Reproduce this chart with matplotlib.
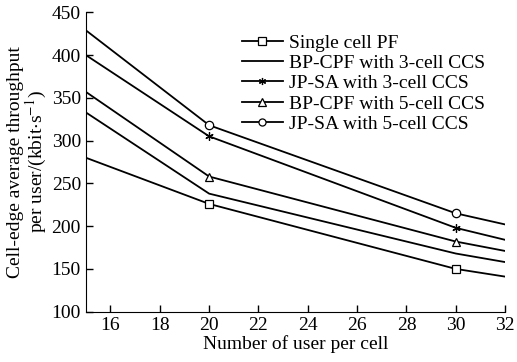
import matplotlib.pyplot as plt

plt.rcParams['font.family'] = ['Liberation Serif', 'DejaVu Serif']
plt.rcParams['mathtext.fontset'] = 'stix'

users = [15, 20, 30, 32]

single_pf = [280, 226, 150, 141]
bp_cpf_3 = [333, 238, 168, 158]
jp_sa_3 = [400, 305, 198, 184]
bp_cpf_5 = [357, 258, 182, 171]
jp_sa_5 = [429, 318, 215, 202]

labels = ["Single cell PF", "BP-CPF with 3-cell CCS", "JP-SA with 3-cell CCS",
          "BP-CPF with 5-cell CCS", "JP-SA with 5-cell CCS"]
series = [single_pf, bp_cpf_3, jp_sa_3, bp_cpf_5, jp_sa_5]
markers = ["s", None, (6, 2, 0), "^", "o"]

fig = plt.figure(figsize=(5.17, 3.62), dpi=100)
ax = fig.add_axes([0.166, 0.139, 0.811, 0.827])

for vals, lab, mk in zip(series, labels, markers):
    ax.plot(users, vals, color="black", lw=1.3, label=lab,
            marker=mk, markevery=[1, 2], markersize=6,
            markerfacecolor="white", markeredgecolor="black", markeredgewidth=0.9)

ax.set_xlim(15, 32)
ax.set_ylim(100, 450)
ax.set_xticks(range(16, 33, 2))
ax.set_yticks(range(100, 451, 50))
ax.tick_params(direction="in", length=5, labelsize=14, width=1)
ax.spines["top"].set_visible(False)
ax.spines["right"].set_visible(False)

ax.set_xlabel("Number of user per cell", fontsize=14, labelpad=1)
ax.set_ylabel("Cell-edge average throughput\nper user/(kbit$\\cdot$s$^{-1}$)",
              fontsize=14, labelpad=2, linespacing=1.0)

ax.legend(loc="upper left", bbox_to_anchor=(242 / 517, 1 - 34 / 362),
          bbox_transform=fig.transFigure, frameon=False, fontsize=14,
          handlelength=2.1, handletextpad=0.3, labelspacing=0.14,
          borderpad=0, borderaxespad=0, markerscale=0.85)

fig.savefig("out.png", dpi=100)
